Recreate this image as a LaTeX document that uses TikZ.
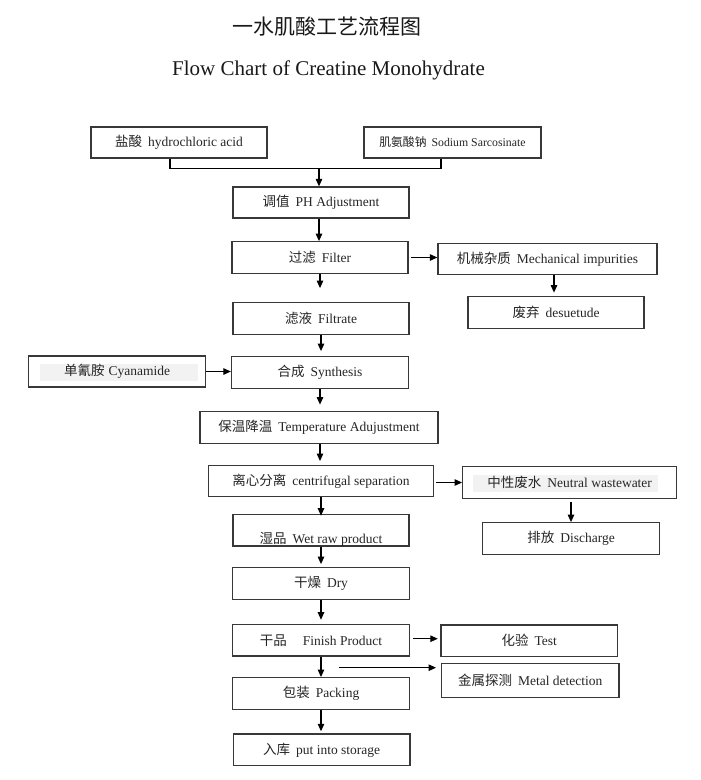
\documentclass[tikz,border=0pt]{standalone}
\usepackage{fontspec}
\setmainfont{Liberation Serif}
\newfontfamily\cjk{Noto Sans CJK SC}
\usetikzlibrary{arrows.meta}
\newcommand{\zh}[1]{{\cjk #1}}
\begin{document}
\begin{tikzpicture}[x=1pt,y=-1pt,
  bx/.style={draw=black!78, line width=1.3pt, inner sep=0pt, text=black!85,
    font=\fontsize{13.5}{15}\selectfont, minimum height=31.5pt},
  txt/.style={inner sep=0pt, text=black!85, font=\fontsize{13.5}{15}\selectfont},
  arr/.style={-{Triangle[length=7.5pt,width=6.5pt]}, line width=1.1pt, black},
  conn/.style={line width=1.3pt, black}]
\useasboundingbox (0,0) rectangle (701,780);
\fill[white] (0,0) rectangle (701,780);

% titles
\node[inner sep=0pt, text=black!90] (t1) at (327,27) {\fontsize{21}{24}\selectfont\cjk 一水肌酸工艺流程图};
\node[inner sep=0pt, text=black!90] (t2) at (328.5,70) {\fontsize{21}{24}\selectfont Flow Chart of Creatine Monohydrate};

% light text backgrounds
\fill[black!5] (39.5,364) rectangle (197.5,380.5);
\fill[black!5] (473,475) rectangle (658,491.5);

% boxes
\node[bx, minimum width=176pt, minimum height=31pt] (hcl) at (179,142.5) {\zh{盐酸}\hspace{6pt}hydrochloric acid};
\node[bx, minimum width=177pt, minimum height=31pt, font=\fontsize{11.8}{14}\selectfont] (sod) at (452.5,142.5) {\zh{肌氨酸钠}\hspace{5pt}Sodium Sarcosinate};
\node[bx, minimum width=176pt, minimum height=31pt] (ph) at (321,202.5) {\zh{调值}\hspace{6pt}PH Adjustment};
\node[bx, minimum width=176pt] (filter) at (320,257.5) {\zh{过滤}\hspace{6pt}Filter};
\node[bx, minimum width=219pt, minimum height=31pt] (mech) at (547.5,259) {\zh{机械杂质}\hspace{6pt}Mechanical impurities};
\node[bx, minimum width=176pt] (desu) at (556,312.5) {\zh{废弃}\hspace{6pt}desuetude};
\node[bx, minimum width=176pt] (filtrate) at (321,318.5) {\zh{滤液}\hspace{6pt}Filtrate};
\node[bx, minimum width=177pt, minimum height=31pt] (cyan) at (117,371.5) {\zh{单氰胺}\hspace{4pt}Cyanamide};
\node[bx, minimum width=177pt] (synth) at (320,372.5) {\zh{合成}\hspace{6pt}Synthesis};
\node[bx, minimum width=238pt] (temp) at (319,427.5) {\zh{保温降温}\hspace{6pt}Temperature Adujustment};
\node[bx, minimum width=225pt, minimum height=31pt] (centri) at (321,481.2) {\zh{离心分离}\hspace{6pt}centrifugal separation};
\node[bx, minimum width=214pt] (neutral) at (569.7,482.5) {\zh{中性废水}\hspace{6pt}Neutral wastewater};
\node[bx, minimum width=176.5pt] (disch) at (571,538.5) {\zh{排放}\hspace{6pt}Discharge};
\node[bx, minimum width=176pt, minimum height=31.7pt] (wet) at (321,530.2) {};
\node[txt] (wettxt) at (321,539.5) {\zh{湿品}\hspace{6pt}Wet raw product};
\node[bx, minimum width=177pt] (dry) at (321,583.5) {\zh{干燥}\hspace{6pt}Dry};
\node[bx, minimum width=177pt, minimum height=31.7pt] (finish) at (321,640.2) {\zh{干品}\hspace{16pt}Finish Product};
\node[bx, minimum width=176.7pt, minimum height=31.7pt] (test) at (529.3,640.8) {\zh{化验}\hspace{6pt}Test};
\node[bx, minimum width=177.3pt, minimum height=34.4pt] (metal) at (530.3,680.5) {\zh{金属探测}\hspace{6pt}Metal detection};
\node[bx, minimum width=177pt, minimum height=31.6pt] (pack) at (321,693.5) {\zh{包装}\hspace{6pt}Packing};
\node[bx, minimum width=176.7pt, minimum height=31.7pt] (store) at (321.7,749.8) {\zh{入库}\hspace{6pt}put into storage};

% merge connector
\coordinate (j) at (319,168.3);
\draw[conn] ([xshift=-9pt]hcl.south) -- ([xshift=-9pt]hcl.south |- j) -- ([xshift=-11.5pt]sod.south |- j) -- ([xshift=-11.5pt]sod.south);
\draw[arr] (j) -- (j |- ph.north);

% vertical flow
\draw[arr] ([xshift=-2pt]ph.south) -- ([xshift=-1pt]filter.north);
\draw[arr, shorten >=14pt] (filter.south) -- (filter.south |- filtrate.north);
\draw[arr, shorten >=5pt] (filtrate.south) -- (filtrate.south |- synth.north);
\draw[arr, shorten >=6.5pt] (synth.south) -- (synth.south |- temp.north);
\draw[arr, shorten >=4pt] (temp.south -| synth.south) -- (synth.south |- centri.north);
\draw[arr, shorten >=-2pt] (centri.south -| wet.north) -- (wet.north);
\draw[arr, shorten >=3pt] (wet.south) -- (dry.north);
\draw[arr, shorten >=4pt] (dry.south) -- (finish.north);
\draw[arr] (finish.south) -- (pack.north);
\draw[arr, shorten >=2pt] (pack.south) -- (pack.south |- store.north);

% side branches
\draw[arr] ([xshift=2pt]filter.east) -- (filter.east -| mech.west);
\draw[arr, shorten >=3.5pt] ([xshift=-2pt]desu.north |- mech.south) -- ([xshift=-2pt]desu.north);
\draw[arr] (cyan.east) -- (cyan.east -| synth.west);
\draw[arr] ([xshift=2pt]centri.east |- neutral.west) -- (neutral.west);
\draw[arr, shorten <=3.5pt] (disch.north |- neutral.south) -- (disch.north);
\draw[arr, shorten >=2.5pt] ([xshift=3pt,yshift=1.5pt]finish.east) -- ([yshift=1.5pt]finish.east -| test.west);
\coordinate (ms) at (339.3,667.7);
\draw[arr, shorten >=5pt] (ms) -- (ms -| metal.west);
\end{tikzpicture}
\end{document}
